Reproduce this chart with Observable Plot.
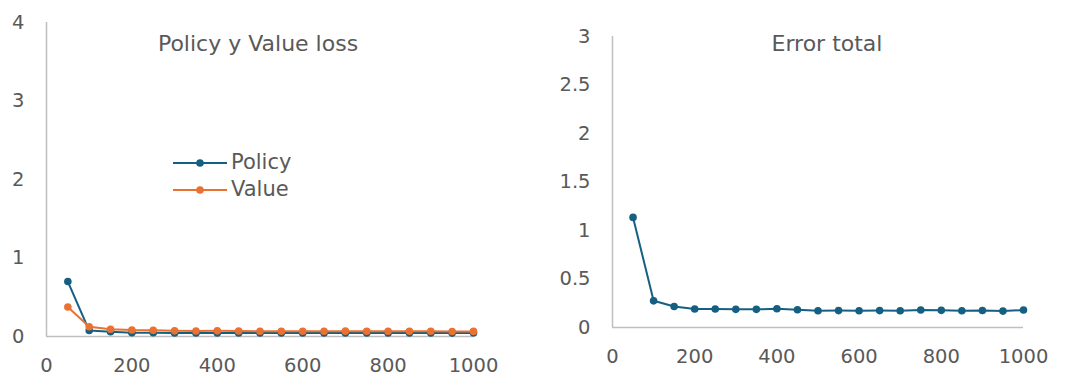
<!DOCTYPE html>
<html>
<head>
<meta charset="utf-8">
<script src="https://cdn.jsdelivr.net/npm/d3@7"></script>
<script src="https://cdn.jsdelivr.net/npm/@observablehq/plot@0.6"></script>
<style>
  html, body { margin: 0; padding: 0; background: #fff; }
  #wrap { position: relative; width: 1083px; height: 380px; font-family: "DejaVu Sans", sans-serif; }
  .panel { position: absolute; top: 0; }
  .legend { position: absolute; left: 173px; top: 149px; font-size: 21px; color: #595959; line-height: 27px; }
  .legend div { display: flex; align-items: center; }
  .legend svg { margin-right: 4px; }
</style>
</head>
<body>
<div id="wrap"></div>
<script>
// ---- data ----
const steps = [50, 100, 150, 200, 250, 300, 350, 400, 450, 500, 550, 600, 650, 700, 750, 800, 850, 900, 950, 1000];
const policyLoss = [0.70, 0.076, 0.062, 0.048, 0.047, 0.046, 0.046, 0.046, 0.046, 0.044, 0.044, 0.044, 0.044, 0.044, 0.044, 0.044, 0.044, 0.044, 0.043, 0.044];
const valueLoss = [0.375, 0.125, 0.092, 0.082, 0.080, 0.072, 0.070, 0.072, 0.070, 0.066, 0.066, 0.066, 0.066, 0.068, 0.066, 0.066, 0.066, 0.066, 0.063, 0.065];
const errorTotal = [1.135, 0.275, 0.217, 0.190, 0.190, 0.187, 0.187, 0.193, 0.183, 0.172, 0.174, 0.172, 0.174, 0.172, 0.180, 0.177, 0.172, 0.175, 0.169, 0.180];
const seriesNames = ["Policy", "Value"];
const seriesColors = ["#156082", "#E97132"];
const xTicks = [0, 200, 400, 600, 800, 1000];
const yTicksLeft = [0, 1, 2, 3, 4];
const yTicksRight = [0, 0.5, 1, 1.5, 2, 2.5, 3];
const titleLeft = "Policy y Value loss";
const titleRight = "Error total";

const leftData = steps.flatMap((s, i) => [
  {step: s, value: policyLoss[i], series: "Policy"},
  {step: s, value: valueLoss[i], series: "Value"}
]);
const rightData = steps.map((s, i) => ({step: s, value: errorTotal[i]}));

const axisColor = "#bfbfbf";
const textColor = "#595959";
const font = "\"DejaVu Sans\", sans-serif";
const fmt = d => String(d);

function panel({width, marginLeft, marginRight, marginTop, marginBottom, yDomain, yTicks, data, title, titleDx, titleDy, multi}) {
  const marks = [
    Plot.ruleX([0], {stroke: axisColor, strokeWidth: 1.5}),
    Plot.ruleY([0], {stroke: axisColor, strokeWidth: 1.5}),
    Plot.axisX({ticks: xTicks, tickFormat: fmt, tickSize: 0, tickPadding: 22, fontSize: 19.5, color: textColor, label: null}),
    Plot.axisY({ticks: yTicks, tickFormat: fmt, tickSize: 0, tickPadding: 22, fontSize: 19.5, color: textColor, label: null}),
    Plot.text([title], {frameAnchor: "top", dy: titleDy, dx: titleDx, fontSize: 22, fill: textColor})
  ];
  if (multi) {
    marks.push(Plot.line(data, {x: "step", y: "value", z: "series", stroke: "series", strokeWidth: 2}));
    marks.push(Plot.dot(data, {x: "step", y: "value", fill: "series", r: 3.8}));
  } else {
    marks.push(Plot.line(data, {x: "step", y: "value", stroke: seriesColors[0], strokeWidth: 2}));
    marks.push(Plot.dot(data, {x: "step", y: "value", fill: seriesColors[0], r: 3.8}));
  }
  return Plot.plot({
    width, height: 380,
    marginLeft, marginRight, marginTop, marginBottom,
    style: {fontFamily: font, background: "transparent", overflow: "visible"},
    x: {domain: [0, 1000]},
    y: {domain: yDomain},
    color: {domain: seriesNames, range: seriesColors},
    marks
  });
}

const wrap = document.getElementById("wrap");

const left = panel({width: 540, marginLeft: 46, marginRight: 67, marginTop: 22, marginBottom: 44,
  yDomain: [0, 4], yTicks: yTicksLeft, data: leftData, title: titleLeft, titleDx: -2, titleDy: 13, multi: true});
const lDiv = document.createElement("div");
lDiv.className = "panel"; lDiv.style.left = "0px";
lDiv.appendChild(left);
wrap.appendChild(lDiv);

const right = panel({width: 543, marginLeft: 72, marginRight: 60, marginTop: 36, marginBottom: 53,
  yDomain: [0, 3], yTicks: yTicksRight, data: rightData, title: titleRight, titleDx: 9, titleDy: -1, multi: false});
const rDiv = document.createElement("div");
rDiv.className = "panel"; rDiv.style.left = "540px";
rDiv.appendChild(right);
wrap.appendChild(rDiv);

// legend
const legend = document.createElement("div");
legend.className = "legend";
seriesNames.forEach((name, i) => {
  const row = document.createElement("div");
  row.innerHTML = `<svg width="54" height="10"><line x1="0" x2="54" y1="5" y2="5" stroke="${seriesColors[i]}" stroke-width="2"/><circle cx="27" cy="5" r="3.8" fill="${seriesColors[i]}"/></svg><span>${name}</span>`;
  legend.appendChild(row);
});
wrap.appendChild(legend);
</script>
</body>
</html>
